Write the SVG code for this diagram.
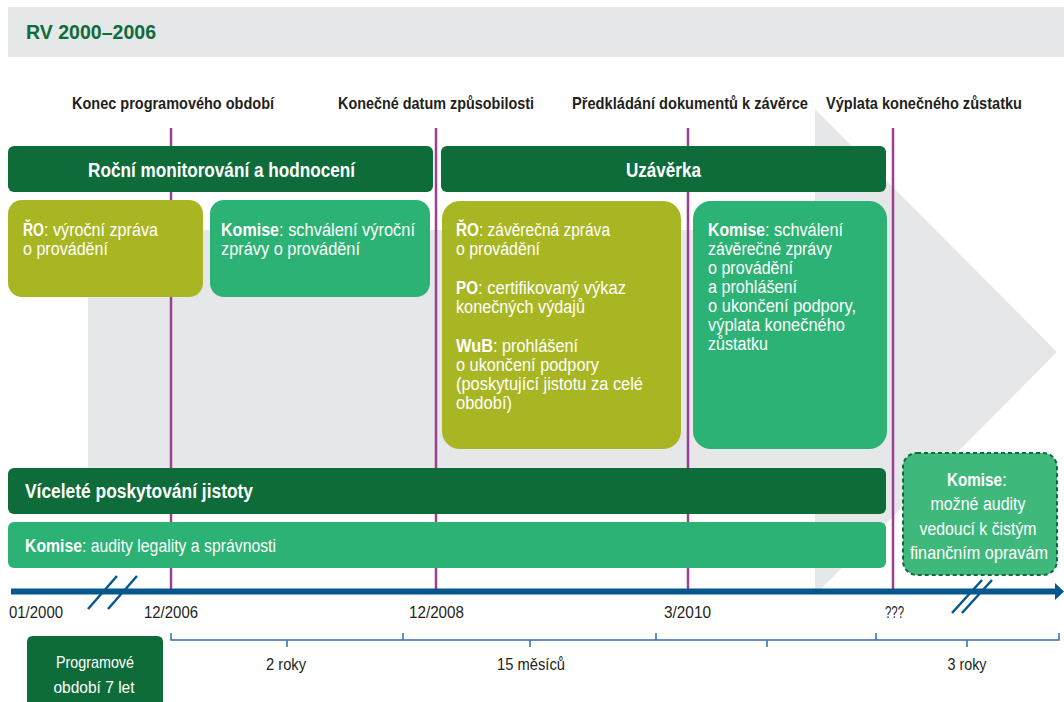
<svg xmlns="http://www.w3.org/2000/svg" width="1064" height="702" viewBox="0 0 1064 702">
<style>
text{font-family:"Liberation Sans Narrow","Liberation Sans",Arial,sans-serif;}
.b{font-weight:bold;}
.lbl{font-size:17px;font-weight:bold;fill:#231f20;}
.bar{font-size:20px;font-weight:bold;fill:#fff;}
.box{font-size:18px;fill:#fff;}
.date{font-size:17px;fill:#231f20;}
.wt{fill:#fff;}
.dk{fill:#0e6b3a;}
.ol{fill:#a9b623;}
.gr{fill:#2bb274;}
.pl{stroke:#9a4090;stroke-width:2.5;fill:none;}
</style>
<rect x="8" y="7" width="1056" height="50" fill="#e6e7e8"/>
<text x="26" y="39" font-size="20" font-weight="bold" fill="#0e6b3a" textLength="130" lengthAdjust="spacingAndGlyphs">RV 2000–2006</text>
<g id="bg-arrow" fill="#e6e7e8">
<rect x="88" y="230" width="728" height="244"/>
<polygon points="815,109 1057,352 815,595"/>
</g>
<g id="milestone-labels">
<text class="lbl" x="72" y="109" textLength="202" lengthAdjust="spacingAndGlyphs">Konec programového období</text>
<text class="lbl" x="338" y="109" textLength="196" lengthAdjust="spacingAndGlyphs">Konečné datum způsobilosti</text>
<text class="lbl" x="572" y="109" textLength="236" lengthAdjust="spacingAndGlyphs">Předkládání dokumentů k závěrce</text>
<text class="lbl" x="826" y="109" textLength="196" lengthAdjust="spacingAndGlyphs">Výplata konečného zůstatku</text>
</g>
<g id="connectors">
<line class="pl" x1="171" y1="128" x2="171" y2="589"/>
<line class="pl" x1="436" y1="128" x2="436" y2="589"/>
<line class="pl" x1="688" y1="128" x2="688" y2="589"/>
<line class="pl" x1="893" y1="128" x2="893" y2="589"/>
</g>
<g id="rocni">
<rect class="dk" x="8" y="146" width="425" height="46" rx="6"/>
<text class="bar" x="88" y="176.5" textLength="267" lengthAdjust="spacingAndGlyphs">Roční monitorování a hodnocení</text>
</g>
<g id="uzaverka">
<rect class="dk" x="441" y="146" width="445" height="46" rx="6"/>
<text class="bar" x="626" y="176.5" textLength="75" lengthAdjust="spacingAndGlyphs">Uzávěrka</text>
</g>
<g id="ro-vyrocni">
<rect class="ol" x="8" y="200" width="195" height="97" rx="14"/>
<text class="box b" x="23" y="236" textLength="21" lengthAdjust="spacingAndGlyphs">ŘO</text>
<text class="box" x="44" y="236" textLength="114" lengthAdjust="spacingAndGlyphs">: výroční zpráva</text>
<text class="box" x="23" y="255" textLength="85" lengthAdjust="spacingAndGlyphs">o provádění</text>
</g>
<g id="komise-schvaleni">
<rect class="gr" x="210" y="200" width="220" height="97" rx="14"/>
<text class="box b" x="221" y="236" textLength="58" lengthAdjust="spacingAndGlyphs">Komise</text>
<text class="box" x="279" y="236" textLength="136" lengthAdjust="spacingAndGlyphs">: schválení výroční</text>
<text class="box" x="221" y="255" textLength="139" lengthAdjust="spacingAndGlyphs">zprávy o provádění</text>
</g>
<g id="zaverecne">
<rect class="ol" x="442" y="201" width="239" height="248" rx="18"/>
<text class="box b" x="456" y="236" textLength="23" lengthAdjust="spacingAndGlyphs">ŘO</text>
<text class="box" x="479" y="236" textLength="131" lengthAdjust="spacingAndGlyphs">: závěrečná zpráva</text>
<text class="box" x="456" y="255" textLength="84" lengthAdjust="spacingAndGlyphs">o provádění</text>
<text class="box b" x="456" y="294" textLength="22" lengthAdjust="spacingAndGlyphs">PO</text>
<text class="box" x="478" y="294" textLength="148" lengthAdjust="spacingAndGlyphs">: certifikovaný výkaz</text>
<text class="box" x="456" y="313" textLength="129" lengthAdjust="spacingAndGlyphs">konečných výdajů</text>
<text class="box b" x="456" y="352" textLength="37" lengthAdjust="spacingAndGlyphs">WuB</text>
<text class="box" x="493" y="352" textLength="85" lengthAdjust="spacingAndGlyphs">: prohlášení</text>
<text class="box" x="456" y="371" textLength="143" lengthAdjust="spacingAndGlyphs">o ukončení podpory</text>
<text class="box" x="456" y="390" textLength="187" lengthAdjust="spacingAndGlyphs">(poskytující jistotu za celé</text>
<text class="box" x="456" y="409" textLength="56" lengthAdjust="spacingAndGlyphs">období)</text>
</g>
<g id="komise-zaverecne">
<rect class="gr" x="693" y="201" width="194" height="248" rx="18"/>
<text class="box b" x="708" y="236" textLength="57" lengthAdjust="spacingAndGlyphs">Komise</text>
<text class="box" x="765" y="236" textLength="78" lengthAdjust="spacingAndGlyphs">: schválení</text>
<text class="box" x="708" y="255" textLength="124" lengthAdjust="spacingAndGlyphs">závěrečné zprávy</text>
<text class="box" x="708" y="274" textLength="85" lengthAdjust="spacingAndGlyphs">o provádění</text>
<text class="box" x="708" y="293" textLength="89" lengthAdjust="spacingAndGlyphs">a prohlášení</text>
<text class="box" x="708" y="312" textLength="148" lengthAdjust="spacingAndGlyphs">o ukončení podpory,</text>
<text class="box" x="708" y="331" textLength="137" lengthAdjust="spacingAndGlyphs">výplata konečného</text>
<text class="box" x="708" y="350" textLength="60" lengthAdjust="spacingAndGlyphs">zůstatku</text>
</g>
<g id="vicelete">
<rect class="dk" x="8" y="468" width="878" height="46" rx="6"/>
<text class="bar" x="25" y="498" textLength="228" lengthAdjust="spacingAndGlyphs">Víceleté poskytování jistoty</text>
</g>
<g id="audity">
<rect class="gr" x="8" y="522" width="878" height="46" rx="6"/>
<text class="box b" x="25" y="552" textLength="57" lengthAdjust="spacingAndGlyphs">Komise</text>
<text class="box" x="82" y="552" textLength="194" lengthAdjust="spacingAndGlyphs">: audity legality a správnosti</text>
</g>
<g id="mozne-audity">
<rect x="903" y="453" width="154" height="122" rx="14" fill="#3fb87b" stroke="#0e6b3a" stroke-width="2" stroke-dasharray="4 3"/>
<text class="box b" x="947" y="486" textLength="55" lengthAdjust="spacingAndGlyphs">Komise</text>
<text class="box" x="1002" y="486">:</text>
<text class="box" x="978" y="510" text-anchor="middle" textLength="95" lengthAdjust="spacingAndGlyphs">možné audity</text>
<text class="box" x="978" y="535" text-anchor="middle" textLength="117" lengthAdjust="spacingAndGlyphs">vedoucí k čistým</text>
<text class="box" x="979" y="559" text-anchor="middle" textLength="138" lengthAdjust="spacingAndGlyphs">finančním opravám</text>
</g>
<g id="timeline">
<line x1="11" y1="591.5" x2="1057" y2="591.5" stroke="#07578f" stroke-width="6"/>
<polygon points="1055,583 1064,591.5 1055,600" fill="#07578f"/>
<g stroke="#07578f" stroke-width="2.5">
<line x1="88" y1="609" x2="117" y2="576"/>
<line x1="108" y1="609" x2="137" y2="576"/>
<line x1="952" y1="613" x2="982" y2="580"/>
<line x1="962" y1="613" x2="992" y2="580"/>
</g>
<path d="M171,633 V640 H1059 V633 M403,640 V633 M656,640 V633 M876,640 V633 M287,640 V647 M530,640 V647 M767,640 V647 M967,640 V647" fill="none" stroke="#2f6fa8" stroke-width="1.5"/>
</g>
<g id="dates">
<text class="date" x="9" y="618" textLength="54" lengthAdjust="spacingAndGlyphs">01/2000</text>
<text class="date" x="144" y="618" textLength="54" lengthAdjust="spacingAndGlyphs">12/2006</text>
<text class="date" x="409" y="618" textLength="55" lengthAdjust="spacingAndGlyphs">12/2008</text>
<text class="date" x="664" y="618" textLength="47" lengthAdjust="spacingAndGlyphs">3/2010</text>
<text class="date" x="885" y="618" textLength="19" lengthAdjust="spacingAndGlyphs">???</text>
<text class="date" x="286" y="670" text-anchor="middle" textLength="40" lengthAdjust="spacingAndGlyphs">2 roky</text>
<text class="date" x="531" y="670" text-anchor="middle" textLength="68" lengthAdjust="spacingAndGlyphs">15 měsíců</text>
<text class="date" x="967" y="670" text-anchor="middle" textLength="39" lengthAdjust="spacingAndGlyphs">3 roky</text>
</g>
<g id="programove-obdobi">
<path class="dk" d="M27,702 V642 Q27,636 33,636 H157 Q163,636 163,642 V702 Z"/>
<text class="date wt" x="95" y="668" text-anchor="middle" textLength="78" lengthAdjust="spacingAndGlyphs">Programové</text>
<text class="date wt" x="94" y="693" text-anchor="middle" textLength="81" lengthAdjust="spacingAndGlyphs">období  7 let</text>
</g>
</svg>
